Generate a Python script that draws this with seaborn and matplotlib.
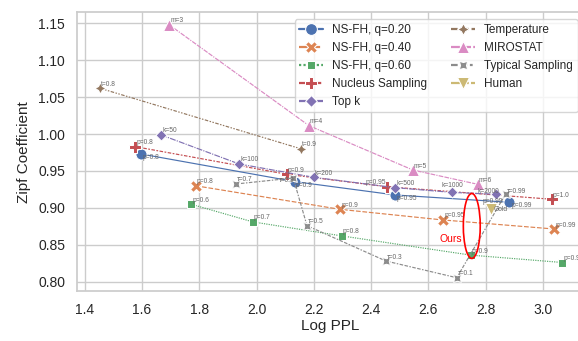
import matplotlib
matplotlib.use("Agg")
import matplotlib.pyplot as plt
import seaborn as sns
import pandas as pd
from matplotlib.patches import Ellipse

# ---------------- data ----------------
methods = ["NS-FH, q=0.20", "NS-FH, q=0.40", "NS-FH, q=0.60", "Nucleus Sampling",
           "Top k", "Temperature", "MIROSTAT", "Typical Sampling", "Human"]

q20_ppl = [1.597, 2.135, 2.484, 2.883]
q20_zipf = [0.973, 0.9355, 0.9175, 0.9076]
q20_labels = ["p=0.8", "p=0.9", "p=0.95", "p=0.99"]

q40_ppl = [1.787, 2.292, 2.652, 3.039]
q40_zipf = [0.930, 0.898, 0.8836, 0.8714]
q40_labels = ["p=0.8", "p=0.9", "p=0.95", "p=0.99"]

q60_ppl = [1.771, 1.987, 2.298, 2.748, 3.068]
q60_zipf = [0.905, 0.881, 0.862, 0.836, 0.826]
q60_labels = ["p=0.6", "p=0.7", "p=0.8", "p=0.9", "p=0.99"]

nucleus_ppl = [1.576, 2.106, 2.455, 3.031]
nucleus_zipf = [0.983, 0.9455, 0.9287, 0.9117]
nucleus_labels = ["p=0.8", "p=0.9", "p=0.95", "p=1.0"]

topk_ppl = [1.667, 1.939, 2.199, 2.484, 2.682, 2.835]
topk_zipf = [0.9988, 0.9595, 0.9415, 0.9274, 0.921, 0.9185]
topk_labels = ["k=50", "k=100", "k=200", "k=500", "k=1000", "k=2000"]

temp_ppl = [1.454, 2.155]
temp_zipf = [1.062, 0.980]
temp_labels = ["t=0.8", "t=0.9"]

miro_ppl = [1.695, 2.183, 2.546, 2.772]
miro_zipf = [1.148, 1.0114, 0.9513, 0.932]
miro_labels = ["m=3", "m=4", "m=5", "m=6"]

typical_ppl = [1.928, 2.128, 2.176, 2.452, 2.699, 2.870]
typical_zipf = [0.9324, 0.9405, 0.8759, 0.828, 0.8054, 0.919]
typical_labels = ["τ=0.7", "τ=0.9", "τ=0.5", "τ=0.3", "τ=0.1", "τ=0.99"]

human_ppl = [2.818]
human_zipf = [0.8985]
human_labels = ["Gold"]

extra_label = "p=0.99"  # stray label next to the q=0.20 p=0.99 point

ours_center = (2.7515, 0.8755)
ours_size = (0.059, 0.088)
ours_text = "Ours"

x_ticks = [1.4, 1.6, 1.8, 2.0, 2.2, 2.4, 2.6, 2.8, 3.0]
y_ticks = [0.80, 0.85, 0.90, 0.95, 1.00, 1.05, 1.10, 1.15]

series = [
    (q20_ppl, q20_zipf, q20_labels),
    (q40_ppl, q40_zipf, q40_labels),
    (q60_ppl, q60_zipf, q60_labels),
    (nucleus_ppl, nucleus_zipf, nucleus_labels),
    (topk_ppl, topk_zipf, topk_labels),
    (temp_ppl, temp_zipf, temp_labels),
    (miro_ppl, miro_zipf, miro_labels),
    (typical_ppl, typical_zipf, typical_labels),
    (human_ppl, human_zipf, human_labels),
]

rows = []
for m, (xs, ys, ls) in zip(methods, series):
    for x, y, l in zip(xs, ys, ls):
        rows.append({"method": m, "ppl": x, "zipf": y, "label": l})
df = pd.DataFrame(rows)

# ---------------- style ----------------
sns.set_theme(style="whitegrid")
plt.rcParams["font.family"] = ["Liberation Sans", "DejaVu Sans"]

W, H = 578, 341
fig = plt.figure(figsize=(W / 100, H / 100), dpi=100)
ax = fig.add_axes([77 / W, 1 - 291 / H, (584 - 77) / W, (291 - 12.3) / H])

sns.lineplot(data=df, x="ppl", y="zipf", hue="method", style="method",
             hue_order=methods, style_order=methods, palette="deep",
             markers=True, dashes=True, markersize=8, linewidth=0.85,
             sort=True, ax=ax)

# point labels (offsets in pixels)
default_off = (1, 4, "left")
overrides = {
    (0, 0): (1, -3.5, "left"), (0, 1): (0, -3.5, "left"),
    (0, 2): (1, -3.5, "left"), (0, 3): (2, -3.5, "left"),
    (3, 2): (-1, 4, "right"),
    (4, 4): (0, 7, "center"), (4, 5): (4, 3, "right"),
    (7, 1): (1, -3, "right"), (7, 5): (1, 2, "left"),
    (8, 0): (3, -1, "left"),
}
for si, (xs, ys, ls) in enumerate(series):
    for pi, (x, y, l) in enumerate(zip(xs, ys, ls)):
        dx, dy, ha = overrides.get((si, pi), default_off)
        ax.annotate(l, (x, y), xytext=(dx, dy), textcoords="offset pixels",
                    ha=ha, va="center", fontsize=4.8, color="0.4")
ax.annotate(extra_label, (q20_ppl[3], q20_zipf[3]), xytext=(-7, 1),
            textcoords="offset pixels", ha="right", va="center",
            fontsize=4.8, color="0.4")

# "Ours" highlight
ax.add_patch(Ellipse(ours_center, ours_size[0], ours_size[1], fill=False,
                     ec="red", lw=1.2, zorder=5))
ax.text(ours_center[0] - 0.074, ours_center[1] - 0.0175, ours_text,
        color="red", fontsize=7.5, ha="center", va="center")

ax.set_xlim(1.3728, 3.1434)
ax.set_ylim(0.7874, 1.165)
ax.set_xticks(x_ticks)
ax.set_yticks(y_ticks)
ax.set_xticklabels([f"{v:.1f}" for v in x_ticks])
ax.set_yticklabels([f"{v:.2f}" for v in y_ticks])
ax.tick_params(axis="both", labelsize=10, length=0)
ax.tick_params(axis="x", pad=9)
ax.tick_params(axis="y", pad=8.6)
ax.set_xlabel("Log PPL", fontsize=11, labelpad=1)
ax.set_ylabel("Zipf Coefficient", fontsize=11, labelpad=5)

handles, labels = ax.get_legend_handles_labels()
leg = ax.legend(handles, labels, ncol=2, loc="upper right",
                bbox_to_anchor=(577.5 / W, 1 - 19.3 / H),
                bbox_transform=fig.transFigure, borderaxespad=0,
                fontsize=8.5, frameon=True)
for ln in leg.get_lines():
    ln.set_linewidth(1.6)
    ln.set_markersize(8.5)

fig.savefig("out.png", dpi=100)
